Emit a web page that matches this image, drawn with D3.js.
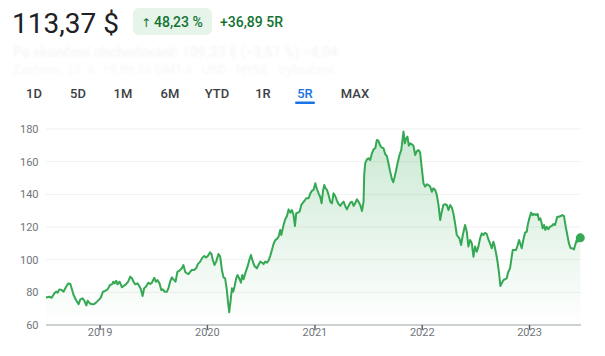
<!DOCTYPE html>
<html><head><meta charset="utf-8">
<script src="https://cdn.jsdelivr.net/npm/d3@7"></script>
<style>html,body{margin:0;padding:0;background:#fff;}svg{display:block;font-family:Roboto,Arial,sans-serif;}</style>
</head><body><svg id="c" width="605" height="356"></svg>
<script>
// ---- data (decimal year, price) ----
const dates = [2018.496,2018.527,2018.549,2018.574,2018.590,2018.604,2018.620,2018.642,2018.660,2018.683,2018.704,2018.723,2018.735,2018.753,2018.776,2018.800,2018.816,2018.837,2018.853,2018.872,2018.884,2018.902,2018.925,2018.946,2018.971,2018.993,2019.008,2019.027,2019.046,2019.070,2019.092,2019.111,2019.123,2019.135,2019.151,2019.163,2019.182,2019.204,2019.219,2019.241,2019.262,2019.281,2019.297,2019.312,2019.328,2019.349,2019.365,2019.381,2019.396,2019.411,2019.427,2019.449,2019.467,2019.483,2019.505,2019.520,2019.535,2019.554,2019.570,2019.585,2019.600,2019.623,2019.638,2019.653,2019.669,2019.684,2019.703,2019.721,2019.740,2019.762,2019.777,2019.793,2019.809,2019.824,2019.840,2019.855,2019.877,2019.895,2019.911,2019.933,2019.949,2019.970,2019.989,2020.004,2020.026,2020.038,2020.051,2020.066,2020.082,2020.103,2020.119,2020.135,2020.150,2020.165,2020.181,2020.193,2020.203,2020.215,2020.228,2020.240,2020.252,2020.268,2020.280,2020.296,2020.312,2020.324,2020.336,2020.352,2020.373,2020.392,2020.405,2020.420,2020.438,2020.460,2020.475,2020.491,2020.507,2020.522,2020.538,2020.554,2020.568,2020.584,2020.600,2020.615,2020.631,2020.647,2020.662,2020.677,2020.687,2020.699,2020.708,2020.724,2020.740,2020.755,2020.770,2020.786,2020.801,2020.814,2020.826,2020.842,2020.857,2020.873,2020.889,2020.903,2020.919,2020.941,2020.957,2020.972,2020.987,2021.003,2021.019,2021.034,2021.050,2021.062,2021.075,2021.087,2021.099,2021.112,2021.127,2021.143,2021.159,2021.173,2021.189,2021.205,2021.220,2021.236,2021.252,2021.267,2021.282,2021.298,2021.313,2021.329,2021.345,2021.360,2021.375,2021.391,2021.406,2021.422,2021.438,2021.453,2021.459,2021.468,2021.484,2021.499,2021.515,2021.531,2021.546,2021.562,2021.577,2021.592,2021.608,2021.624,2021.639,2021.655,2021.670,2021.685,2021.701,2021.717,2021.729,2021.741,2021.757,2021.773,2021.788,2021.804,2021.816,2021.825,2021.838,2021.850,2021.862,2021.875,2021.887,2021.903,2021.918,2021.934,2021.950,2021.965,2021.980,2021.996,2022.011,2022.027,2022.043,2022.058,2022.074,2022.089,2022.104,2022.120,2022.136,2022.151,2022.167,2022.182,2022.197,2022.213,2022.229,2022.244,2022.260,2022.276,2022.290,2022.306,2022.322,2022.346,2022.362,2022.378,2022.399,2022.415,2022.430,2022.446,2022.462,2022.477,2022.492,2022.508,2022.523,2022.539,2022.555,2022.570,2022.585,2022.601,2022.616,2022.632,2022.648,2022.663,2022.672,2022.688,2022.704,2022.716,2022.728,2022.741,2022.756,2022.772,2022.787,2022.802,2022.818,2022.834,2022.843,2022.858,2022.874,2022.890,2022.902,2022.911,2022.927,2022.942,2022.958,2022.974,2022.983,2022.998,2023.014,2023.029,2023.044,2023.060,2023.076,2023.088,2023.100,2023.113,2023.122,2023.135,2023.147,2023.160,2023.175,2023.190,2023.206,2023.221,2023.237,2023.246,2023.258,2023.274,2023.290,2023.305,2023.321,2023.337,2023.352,2023.367,2023.383,2023.398,2023.414,2023.423,2023.439,2023.448,2023.460,2023.473];
const prices = [76.9,77.3,76.7,79.4,80.4,79.8,81.8,81.4,80.4,83.4,85.5,85.1,82.5,78.4,75.3,72.7,75.7,76.3,74.9,72.0,74.9,73.3,72.7,72.9,74.3,75.7,76.9,80.4,80.8,81.8,84.5,84.9,86.5,85.5,87.1,84.9,86.5,83.1,83.9,84.9,86.5,89.6,88.6,86.5,84.9,85.5,83.9,81.8,77.8,82.5,83.4,85.9,85.1,85.9,88.9,86.5,87.5,85.5,81.4,81.8,80.4,80.4,82.8,86.5,89.2,88.0,86.5,92.6,93.3,94.7,96.7,92.6,91.6,91.2,92.6,93.7,93.7,94.7,97.3,98.8,100.8,102.2,101.4,102.2,104.5,103.5,99.8,96.7,98.8,103.5,101.9,93.7,89.2,88.6,81.4,73.3,67.8,74.3,82.5,80.4,83.4,88.6,90.6,88.6,85.9,90.6,88.0,91.6,95.7,100.2,102.9,99.4,96.1,94.7,96.7,98.8,98.2,97.3,98.8,98.2,99.4,102.2,105.9,109.6,112.0,112.7,114.1,118.2,115.1,118.6,121.2,124.7,126.7,130.8,128.8,130.4,127.3,120.6,128.4,128.8,129.4,133.5,134.9,136.1,137.6,137.6,140.6,142.2,142.7,146.8,143.1,140.6,138.2,134.5,142.2,145.7,143.7,142.7,139.6,135.5,134.5,140.6,139.0,136.1,134.1,132.9,134.5,135.5,132.9,130.8,132.9,134.9,135.5,132.9,134.5,137.0,135.5,133.5,129.8,135.5,151.8,159.0,161.4,162.1,161.0,165.1,167.5,168.2,173.3,172.7,169.8,168.6,168.2,164.5,163.5,159.0,153.9,149.4,147.4,150.2,154.9,160.0,164.1,167.1,173.3,178.4,171.2,174.3,175.3,169.8,171.2,170.6,169.8,164.1,166.5,167.1,165.7,155.9,146.8,144.7,146.2,145.7,144.7,141.6,143.7,142.7,139.6,133.5,124.3,129.4,133.5,133.9,133.5,130.4,133.5,131.8,128.4,122.2,115.1,113.1,109.0,115.1,121.2,117.1,108.0,112.0,110.0,101.8,108.0,104.9,108.0,113.1,116.1,115.1,116.5,115.7,112.5,110.0,107.0,111.0,109.0,103.9,97.8,91.6,83.9,85.5,87.5,88.0,88.6,92.6,94.7,101.8,105.9,105.9,105.9,109.0,112.0,110.4,107.0,112.0,116.5,117.1,121.2,125.3,128.8,127.3,128.0,127.3,128.0,124.3,125.3,122.3,119.2,121.2,118.2,120.2,118.6,120.2,120.6,121.8,121.2,123.2,126.3,126.3,126.7,127.3,126.7,120.2,115.1,110.0,107.0,107.0,106.3,108.4,112.0,111.0,113.1,113.37];
const yTicks = [60,80,100,120,140,160,180];
const tabs = ["1D","5D","1M","6M","YTD","1R","5R","MAX"];
const activeTab = "5R";
const priceText = "113,37 $";
const changeArrow = "↑";
const changePct = "48,23 %";
const changeAbs = "+36,89 5R";
const subLine1 = "Po skončení obchodování: 109,33 $ (−3,57 %) −4,04";
const subLine2 = "Zavřeno: 23. 6. 19:59:53 GMT-4 · USD · NYSE · Vyloučení";

function toDate(t){const y=Math.floor(t);const a=Date.UTC(y,0,1),b=Date.UTC(y+1,0,1);return new Date(a+(t-y)*(b-a));}
const data = dates.map((t,i)=>({d:toDate(t),v:prices[i]}));

const svg = d3.select("#c");
const green="#34a853", dark="#137333";

// header
svg.append("text").attr("x",12).attr("y",32.5).attr("font-size",28).attr("fill","#202124").text(priceText);
svg.append("rect").attr("x",133).attr("y",8).attr("width",79).attr("height",27).attr("rx",6).attr("fill","#e6f4ea");
svg.append("text").attr("x",141).attr("y",27).attr("font-size",12).attr("font-family","DejaVu Sans").attr("fill",dark).text(changeArrow);
svg.append("text").attr("x",154).attr("y",27).attr("font-size",14).attr("font-weight",500).attr("fill",dark).text(changePct);
svg.append("text").attr("x",220).attr("y",27).attr("font-size",14).attr("font-weight",500).attr("fill",dark).text(changeAbs);

const defs = svg.append("defs");
defs.append("filter").attr("id","blur").append("feGaussianBlur").attr("stdDeviation",0.9);
svg.append("text").attr("x",13).attr("y",57).attr("font-size",14).attr("font-weight",700).attr("fill","#f6f6f6").attr("filter","url(#blur)").text(subLine1);
svg.append("text").attr("x",13).attr("y",74).attr("font-size",13).attr("fill","#f6f6f6").attr("filter","url(#blur)").text(subLine2);

// tabs
const tabPos = {"1D":34,"5D":78,"1M":123,"6M":170,"YTD":217,"1R":263,"5R":305,"MAX":355};
svg.selectAll("text.tab").data(tabs).join("text").attr("class","tab")
  .attr("x",d=>tabPos[d]).attr("y",97.5).attr("text-anchor","middle")
  .attr("font-size",13).attr("font-weight",500)
  .attr("fill",d=>d===activeTab?"#1a73e8":"#3c4043").text(d=>d);
svg.append("rect").attr("x",tabPos[activeTab]-10).attr("y",101.5).attr("width",20).attr("height",2.5).attr("rx",1.2).attr("fill","#1a73e8");

// scales
const x = d3.scaleUtc().domain(d3.extent(data,d=>d.d)).range([46,580.3]);
const y = d3.scaleLinear().domain([60,180]).range([325,129]);

// grid
svg.append("g").selectAll("line").data(yTicks.filter(v=>v>60)).join("line")
  .attr("x1",46).attr("x2",581).attr("y1",d=>y(d)).attr("y2",d=>y(d))
  .attr("stroke","#f1f1f1").attr("stroke-width",1);

// y labels
svg.append("g").selectAll("text").data(yTicks).join("text")
  .attr("x",38.5).attr("y",d=>y(d)).attr("dy","0.35em").attr("text-anchor","end")
  .attr("font-size",11).attr("fill","#70757a").text(d=>d);

// gradient area
const grad = defs.append("linearGradient").attr("id","g").attr("gradientUnits","userSpaceOnUse")
  .attr("x1",0).attr("x2",0).attr("y1",y(180)).attr("y2",y(60));
grad.append("stop").attr("offset",0).attr("stop-color",green).attr("stop-opacity",0.26);
grad.append("stop").attr("offset",1).attr("stop-color",green).attr("stop-opacity",0);
svg.append("path").datum(data).attr("fill","url(#g)")
  .attr("d",d3.area().x(d=>x(d.d)).y0(y(60)).y1(d=>y(d.v)));
svg.append("path").datum(data).attr("fill","none").attr("stroke",green).attr("stroke-width",2)
  .attr("stroke-linejoin","round").attr("d",d3.line().x(d=>x(d.d)).y(d=>y(d.v)));

// x axis
svg.append("line").attr("x1",46).attr("x2",581).attr("y1",325).attr("y2",325).attr("stroke","#9aa0a6").attr("stroke-width",1);
const years = x.ticks(d3.utcYear.every(1));
const xg = svg.append("g");
xg.selectAll("line").data(years).join("line")
  .attr("x1",d=>x(d)).attr("x2",d=>x(d)).attr("y1",325).attr("y2",330)
  .attr("stroke","#5f6368").attr("stroke-width",1.5);
xg.selectAll("text").data(years).join("text")
  .attr("x",d=>x(d)).attr("y",336).attr("text-anchor","middle")
  .attr("font-size",11).attr("fill","#70757a").text(d=>d3.utcFormat("%Y")(d));

// end dot
const last = data[data.length-1];
svg.append("circle").attr("cx",x(last.d)).attr("cy",y(last.v)).attr("r",4.5).attr("fill",green);
</script></body></html>
